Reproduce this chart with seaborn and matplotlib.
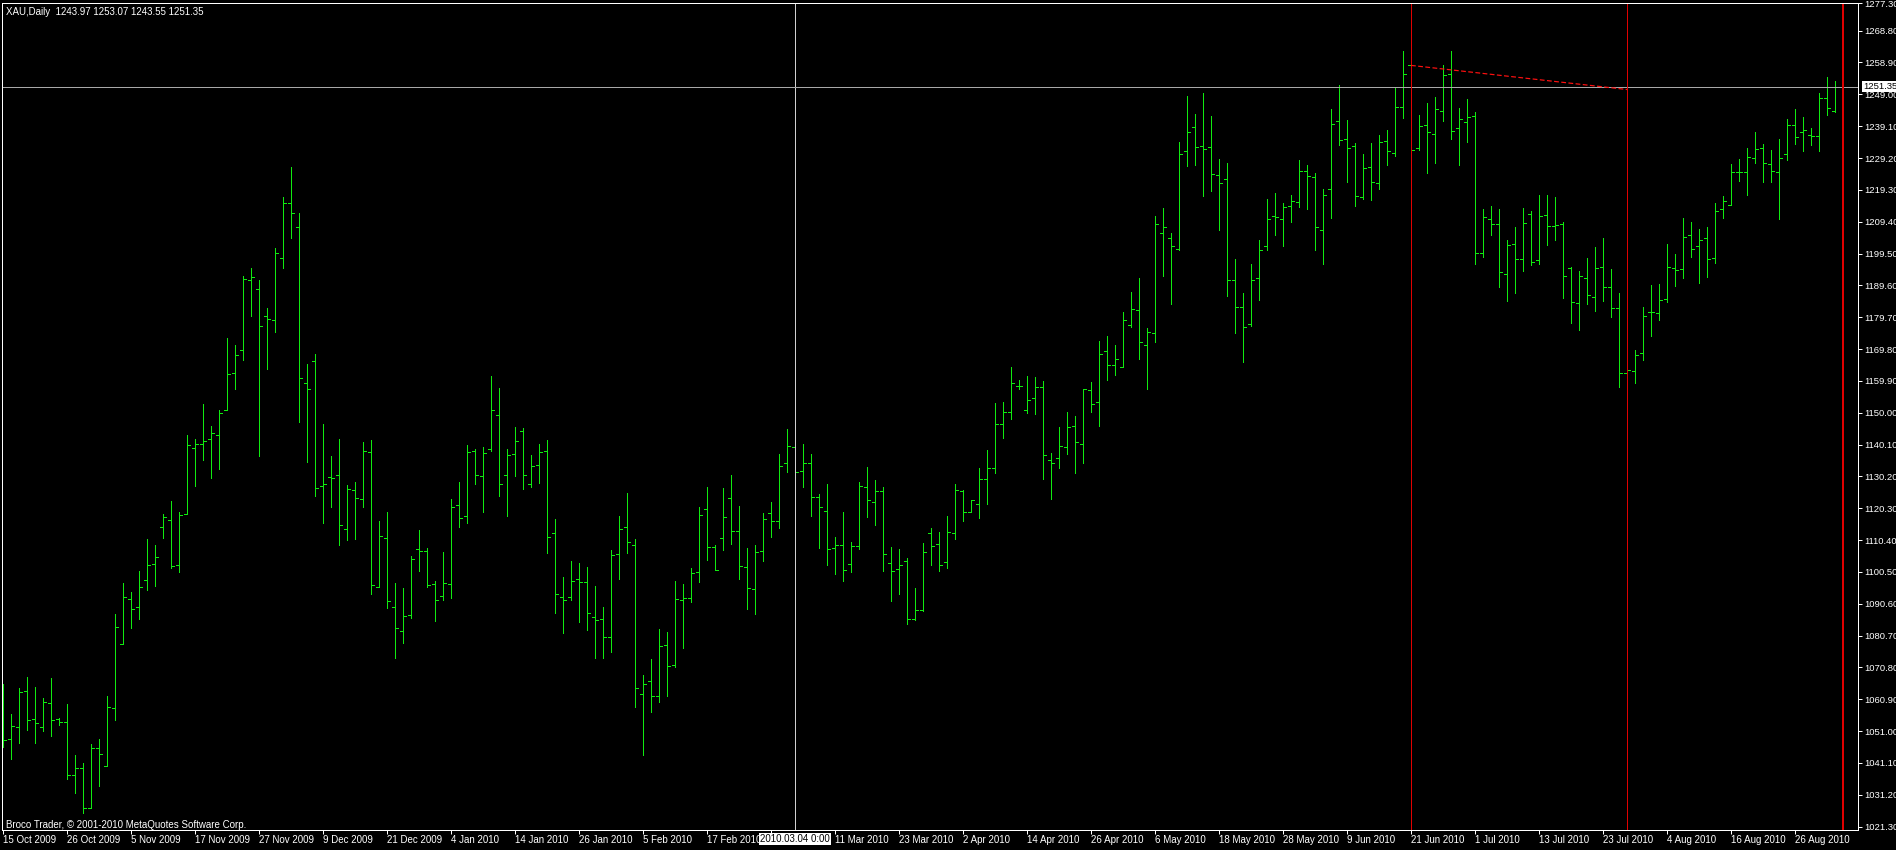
import numpy as np
import pandas as pd
import seaborn as sns
import matplotlib
matplotlib.use("Agg")
import matplotlib.pyplot as plt
import matplotlib.transforms as mtransforms

# XAU daily bars (oldest first)
bar_open = [
    1060.0, 1048.4, 1052.4, 1063.6, 1054.9, 1052.4, 1059.6, 1054.7, 1053.7, 1037.5,
    1039.4, 1027.0, 1045.6, 1040.3, 1058.3, 1078.2, 1092.2, 1089.7, 1098.1, 1103.1,
    1114.5, 1116.7, 1102.7, 1118.6, 1139.1, 1140.3, 1141.9, 1143.1, 1150.9, 1162.4,
    1169.5, 1191.2, 1188.5, 1180.1, 1178.8, 1198.1, 1215.2, 1207.7, 1159.3, 1166.1,
    1127.3, 1130.1, 1130.7, 1113.9, 1126.0, 1123.2, 1137.8, 1095.9, 1111.1, 1089.7,
    1082.2, 1087.2, 1107.7, 1107.1, 1096.8, 1093.1, 1096.8, 1121.4, 1118.0, 1138.2,
    1130.4, 1138.8, 1149.3, 1130.7, 1137.2, 1144.4, 1127.9, 1133.8, 1138.2, 1112.7,
    1092.8, 1092.8, 1098.4, 1097.5, 1086.6, 1085.7, 1080.4, 1106.1, 1114.5, 1108.9,
    1062.4, 1066.7, 1062.0, 1077.9, 1071.7, 1091.9, 1092.5, 1100.6, 1120.1, 1108.3,
    1111.1, 1123.6, 1113.3, 1102.1, 1095.3, 1107.1, 1118.9, 1116.4, 1134.4, 1139.4,
    1131.9, 1134.4, 1123.9, 1119.5, 1108.0, 1108.9, 1103.1, 1108.6, 1127.0, 1122.3,
    1125.7, 1103.4, 1101.5, 1104.0, 1086.0, 1088.8, 1112.7, 1109.3, 1103.7, 1112.7,
    1125.8, 1119.2, 1121.7, 1129.5, 1132.9, 1146.5, 1150.3, 1158.3, 1150.9, 1154.6,
    1158.0, 1135.4, 1136.0, 1139.4, 1145.9, 1140.3, 1157.1, 1153.4, 1169.2, 1164.9,
    1164.2, 1177.3, 1181.9, 1171.1, 1174.8, 1205.9, 1204.3, 1200.9, 1231.3, 1238.8,
    1232.9, 1232.6, 1223.9, 1222.6, 1191.3, 1182.9, 1177.6, 1191.9, 1201.8, 1211.1,
    1210.2, 1214.2, 1215.5, 1225.1, 1223.2, 1206.8, 1219.5, 1240.6, 1235.0, 1232.9,
    1217.0, 1226.3, 1221.4, 1234.4, 1230.7, 1245.0, 1258.0, 1232.3, 1239.4, 1236.6,
    1243.7, 1255.2, 1238.5, 1240.3, 1242.2, 1199.6, 1210.2, 1208.6, 1193.1, 1202.4,
    1197.8, 1211.8, 1197.5, 1211.5, 1208.0, 1208.6, 1195.0, 1184.1, 1191.9, 1186.0,
    1195.3, 1189.1, 1182.6, 1162.4, 1163.0, 1168.6, 1181.3, 1181.0, 1185.3, 1195.0,
    1194.7, 1205.2, 1201.7, 1204.4, 1198.0, 1213.4, 1214.6, 1224.8, 1224.8, 1229.2,
    1232.4, 1227.2, 1225.0, 1230.5, 1239.6, 1237.4, 1236.4, 1236.1, 1248.0, 1243.97,
]
bar_high = [
    1065.6, 1056.3, 1064.3, 1067.8, 1064.7, 1061.2, 1067.4, 1055.1, 1059.4, 1043.5,
    1041.0, 1046.9, 1048.5, 1061.9, 1087.3, 1097.0, 1094.2, 1100.7, 1110.6, 1108.8,
    1118.4, 1122.7, 1119.0, 1143.2, 1141.7, 1152.8, 1146.0, 1150.7, 1173.3, 1171.2,
    1192.6, 1195.1, 1191.4, 1182.6, 1201.3, 1217.1, 1226.4, 1212.2, 1165.0, 1168.4,
    1146.6, 1136.4, 1141.7, 1127.4, 1128.6, 1141.0, 1141.4, 1116.2, 1119.0, 1096.9,
    1095.4, 1105.6, 1113.4, 1107.8, 1097.6, 1106.6, 1123.3, 1128.3, 1140.1, 1138.6,
    1139.2, 1161.5, 1157.8, 1138.6, 1145.7, 1145.4, 1137.0, 1140.4, 1141.4, 1117.1,
    1098.8, 1103.8, 1103.2, 1101.9, 1096.0, 1089.5, 1107.2, 1117.8, 1124.9, 1110.6,
    1068.4, 1073.3, 1082.7, 1081.8, 1097.6, 1096.6, 1101.6, 1120.6, 1126.8, 1108.8,
    1126.5, 1130.5, 1120.9, 1107.8, 1108.8, 1118.7, 1122.1, 1137.3, 1144.8, 1142.0,
    1140.4, 1137.3, 1124.6, 1127.7, 1111.2, 1119.0, 1109.7, 1128.3, 1133.0, 1129.0,
    1126.8, 1108.1, 1107.5, 1104.7, 1095.4, 1109.4, 1114.3, 1112.8, 1117.8, 1127.7,
    1126.1, 1123.0, 1132.7, 1138.3, 1152.9, 1153.2, 1164.3, 1160.3, 1161.5, 1161.2,
    1160.0, 1137.6, 1145.7, 1150.1, 1149.1, 1157.4, 1159.7, 1172.4, 1174.0, 1171.2,
    1181.4, 1187.6, 1192.0, 1176.4, 1211.2, 1213.7, 1206.0, 1234.2, 1248.5, 1242.9,
    1249.4, 1242.3, 1228.9, 1227.7, 1197.9, 1187.3, 1196.3, 1203.8, 1216.5, 1218.4,
    1215.3, 1217.8, 1228.6, 1227.1, 1224.6, 1219.6, 1244.5, 1251.9, 1241.0, 1233.9,
    1230.5, 1233.9, 1236.4, 1237.9, 1251.0, 1262.5, 1260.0, 1242.6, 1246.3, 1248.2,
    1258.1, 1262.5, 1244.8, 1247.6, 1243.5, 1213.4, 1214.3, 1213.4, 1203.8, 1207.8,
    1213.7, 1212.7, 1217.7, 1217.7, 1217.1, 1209.3, 1195.3, 1194.2, 1198.2, 1201.6,
    1204.4, 1194.8, 1187.3, 1166.0, 1169.6, 1183.0, 1189.8, 1190.1, 1202.5, 1199.4,
    1210.6, 1209.4, 1207.0, 1207.7, 1215.1, 1217.3, 1227.4, 1228.9, 1232.2, 1237.3,
    1233.7, 1231.7, 1235.2, 1241.3, 1244.3, 1242.1, 1238.4, 1249.5, 1254.5, 1253.07,
]
bar_low = [
    1045.9, 1042.3, 1047.3, 1051.4, 1047.3, 1051.0, 1049.4, 1052.9, 1036.1, 1031.7,
    1025.5, 1027.0, 1033.9, 1040.3, 1054.5, 1078.1, 1083.1, 1085.9, 1094.9, 1096.1,
    1111.0, 1101.7, 1100.5, 1118.6, 1127.2, 1135.3, 1129.7, 1132.4, 1150.9, 1157.3,
    1166.3, 1180.0, 1136.5, 1163.5, 1175.0, 1194.9, 1204.2, 1147.0, 1134.6, 1124.1,
    1115.7, 1120.6, 1108.9, 1110.4, 1110.7, 1120.6, 1093.6, 1095.9, 1089.3, 1073.8,
    1078.4, 1086.2, 1100.8, 1095.8, 1085.3, 1091.8, 1092.4, 1114.4, 1115.7, 1127.8,
    1119.1, 1138.0, 1124.1, 1117.9, 1130.3, 1126.3, 1126.9, 1128.1, 1106.4, 1087.7,
    1081.5, 1091.8, 1084.9, 1082.5, 1073.8, 1073.8, 1075.6, 1098.3, 1106.4, 1058.5,
    1043.5, 1057.0, 1060.0, 1062.0, 1071.0, 1076.9, 1091.2, 1097.4, 1104.2, 1101.2,
    1107.3, 1109.2, 1098.3, 1089.0, 1087.4, 1103.9, 1111.3, 1114.1, 1131.5, 1128.0,
    1126.9, 1117.9, 1108.0, 1102.6, 1099.9, 1097.7, 1100.5, 1107.6, 1117.6, 1115.1,
    1100.8, 1091.5, 1093.6, 1084.3, 1085.6, 1088.4, 1102.6, 1100.8, 1101.7, 1110.7,
    1116.3, 1119.2, 1117.3, 1121.5, 1131.2, 1142.1, 1148.0, 1157.4, 1149.9, 1149.5,
    1129.4, 1123.1, 1132.8, 1137.1, 1131.2, 1134.3, 1150.2, 1145.8, 1160.1, 1161.6,
    1164.2, 1176.5, 1166.7, 1157.4, 1171.9, 1192.4, 1183.7, 1200.5, 1226.6, 1226.9,
    1217.5, 1218.8, 1206.7, 1186.2, 1174.7, 1165.7, 1176.9, 1184.9, 1200.5, 1205.4,
    1201.7, 1209.2, 1214.1, 1213.2, 1200.5, 1196.1, 1210.4, 1233.1, 1221.6, 1214.4,
    1216.3, 1216.0, 1219.7, 1226.9, 1229.7, 1241.5, 1228.0, 1231.7, 1224.6, 1227.7,
    1240.8, 1235.2, 1226.9, 1234.3, 1196.1, 1198.3, 1205.4, 1189.0, 1184.6, 1187.1,
    1194.0, 1195.8, 1196.1, 1202.3, 1203.6, 1185.6, 1177.8, 1175.6, 1183.7, 1181.5,
    1184.6, 1179.7, 1157.9, 1159.0, 1159.2, 1166.3, 1173.8, 1178.7, 1184.3, 1189.3,
    1191.8, 1198.3, 1190.3, 1192.1, 1196.6, 1210.4, 1214.6, 1222.2, 1217.6, 1227.6,
    1221.6, 1221.6, 1210.1, 1228.5, 1233.7, 1231.5, 1233.1, 1231.5, 1242.6, 1243.55,
]
bar_close = [
    1048.1, 1052.7, 1063.3, 1054.3, 1053.4, 1059.9, 1054.3, 1053.7, 1037.2, 1039.4,
    1027.0, 1045.6, 1044.0, 1058.6, 1083.5, 1092.8, 1089.1, 1095.9, 1102.8, 1105.2,
    1117.7, 1102.4, 1118.3, 1140.0, 1140.3, 1141.3, 1143.7, 1149.9, 1162.1, 1168.0,
    1191.6, 1192.2, 1177.0, 1179.1, 1199.6, 1215.2, 1212.1, 1160.8, 1157.4, 1126.6,
    1127.9, 1129.8, 1115.2, 1126.4, 1123.6, 1138.1, 1096.5, 1111.7, 1091.6, 1083.2,
    1086.9, 1104.6, 1107.1, 1096.5, 1091.9, 1097.2, 1120.8, 1117.3, 1137.8, 1130.7,
    1137.5, 1150.9, 1127.9, 1136.9, 1141.3, 1130.7, 1133.5, 1137.8, 1111.4, 1093.7,
    1091.9, 1097.8, 1097.5, 1087.8, 1085.4, 1080.4, 1105.8, 1113.9, 1109.9, 1064.5,
    1065.5, 1062.0, 1077.6, 1071.1, 1092.2, 1092.5, 1100.3, 1118.3, 1108.3, 1101.2,
    1117.7, 1113.3, 1102.4, 1095.6, 1106.8, 1117.0, 1116.4, 1133.5, 1139.7, 1131.6,
    1134.4, 1123.9, 1120.8, 1107.7, 1108.9, 1101.2, 1108.6, 1127.3, 1123.0, 1125.7,
    1106.2, 1100.9, 1102.7, 1085.7, 1088.8, 1106.8, 1108.6, 1102.7, 1113.0, 1126.0,
    1119.2, 1122.9, 1129.5, 1132.9, 1146.5, 1150.3, 1159.3, 1158.3, 1154.0, 1158.0,
    1136.9, 1134.4, 1139.7, 1145.6, 1140.9, 1157.4, 1152.8, 1168.3, 1164.9, 1166.7,
    1178.8, 1182.3, 1172.0, 1175.1, 1208.6, 1207.7, 1201.8, 1230.4, 1237.3, 1232.6,
    1231.9, 1224.2, 1221.4, 1191.3, 1182.9, 1176.7, 1191.3, 1200.6, 1210.2, 1210.8,
    1213.9, 1215.8, 1225.1, 1223.6, 1207.7, 1217.7, 1239.7, 1234.7, 1232.3, 1217.3,
    1226.0, 1221.7, 1234.1, 1231.3, 1245.0, 1255.2, 1231.6, 1239.1, 1237.2, 1244.4,
    1254.9, 1237.5, 1241.2, 1241.9, 1199.6, 1210.8, 1208.6, 1193.7, 1202.1, 1197.8,
    1209.0, 1196.9, 1211.1, 1208.0, 1208.3, 1192.5, 1184.4, 1192.5, 1186.6, 1195.0,
    1189.1, 1182.6, 1162.4, 1163.3, 1168.0, 1180.1, 1181.3, 1185.0, 1195.3, 1194.4,
    1204.6, 1200.9, 1203.7, 1197.7, 1212.8, 1215.8, 1225.0, 1224.8, 1229.6, 1232.1,
    1227.7, 1225.3, 1229.2, 1239.6, 1235.7, 1237.8, 1236.1, 1247.8, 1244.6, 1251.35,
]

# date labels every 8 bars (the one under the crosshair box is hidden)
date_labels = [
    "15 Oct 2009", "26 Oct 2009", "5 Nov 2009", "17 Nov 2009", "27 Nov 2009",
    "9 Dec 2009", "21 Dec 2009", "4 Jan 2010", "14 Jan 2010", "26 Jan 2010",
    "5 Feb 2010", "17 Feb 2010", "", "11 Mar 2010", "23 Mar 2010", "2 Apr 2010",
    "14 Apr 2010", "26 Apr 2010", "6 May 2010", "18 May 2010", "28 May 2010",
    "9 Jun 2010", "21 Jun 2010", "1 Jul 2010", "13 Jul 2010", "23 Jul 2010",
    "4 Aug 2010", "16 Aug 2010", "26 Aug 2010",
]
price_ticks = [1021.30, 1031.20, 1041.10, 1051.00, 1060.90, 1070.80, 1080.70,
               1090.60, 1100.50, 1110.40, 1120.30, 1130.20, 1140.10, 1150.00,
               1159.90, 1169.80, 1179.70, 1189.60, 1199.50, 1209.40, 1219.30,
               1229.20, 1239.10, 1249.00, 1258.90, 1268.80, 1277.30]

crosshair_bar = 99
crosshair_price = 1251.35
crosshair_date = "2010.03.04 0:00"
red_lines = [176, 203, 230]
red_widths = [1, 1, 2]
trend_x = [176, 203]
trend_y = [1258.0, 1250.5]

sns.set_style("dark", {"axes.facecolor": "black", "figure.facecolor": "black",
                       "axes.edgecolor": "white", "axes.grid": False})
plt.rcParams['font.family'] = ['Liberation Sans', 'DejaVu Sans']

df = pd.DataFrame({"open": bar_open, "high": bar_high,
                   "low": bar_low, "close": bar_close})
df["bar"] = np.arange(len(df))

W, H = 1896, 850
fig = plt.figure(figsize=(W / 100, H / 100), dpi=100)
ax = fig.add_axes([2 / W, 20.5 / H, 1856 / W, 826.5 / H])
ax.set_facecolor("black")

green = "#10ea10"
px = 0.72
ax.vlines(df["bar"], df["low"], df["high"], color=green, lw=px, antialiased=False)
ax.hlines(df["open"], df["bar"] - 0.375, df["bar"], color=green, lw=px, antialiased=False)
ax.hlines(df["close"], df["bar"], df["bar"] + 0.375, color=green, lw=px, antialiased=False)

# crosshair
ax.axvline(crosshair_bar, color="#d0d0d0", lw=px, antialiased=False)
ax.axhline(crosshair_price, color="#a8a8a8", lw=px, antialiased=False)

for xb, wd in zip(red_lines, red_widths):
    ax.axvline(xb, color="#e00000", lw=px * wd, antialiased=False)
sns.lineplot(x=trend_x, y=trend_y, ax=ax, color="#ff1010", lw=px * 1.2,
             dashes=False, linestyle=(0, (4, 2)))

ax.set_xlim(-0.125, 231.875)
ax.set_ylim(1020.4, 1277.4)

ax.yaxis.tick_right()
ax.set_yticks(price_ticks)
ax.set_yticklabels([f"{v:.2f}" for v in price_ticks])
ax.set_xticks(np.arange(0, 8 * len(date_labels), 8))
ax.set_xticklabels(date_labels)
for lab in ax.get_xticklabels():
    lab.set_horizontalalignment("left")
ax.tick_params(axis="both", colors="white", labelcolor="white", length=3,
               width=px, direction="out", labelsize=7, pad=2)
ax.tick_params(axis="y", labelsize=6.8, pad=1.5)
ax.tick_params(axis="x", pad=1)
ax.tick_params(left=False, bottom=True, right=True)
for sp in ax.spines.values():
    sp.set_color("white")
    sp.set_linewidth(px)
ax.set_xlabel("")
ax.set_ylabel("")

# price label of the crosshair
trans_y = mtransforms.blended_transform_factory(ax.transAxes, ax.transData)
ax.annotate(f"{crosshair_price:.2f}", xy=(1.0, crosshair_price), xycoords=trans_y,
            xytext=(5, 0), textcoords="offset pixels",
            ha="left", va="center", fontsize=6.8, color="black",
            bbox=dict(facecolor="white", edgecolor="none", pad=0.8))
# date label of the crosshair
trans_x = mtransforms.blended_transform_factory(ax.transData, ax.transAxes)
ax.annotate(crosshair_date, xy=(crosshair_bar, 0), xycoords=trans_x,
            xytext=(0, -9.5), textcoords="offset pixels", ha="center", va="center",
            fontsize=7, color="black",
            bbox=dict(facecolor="white", edgecolor="none", pad=0.8))

fig.text(6 / W, 1 - 12 / H, "XAU,Daily  1243.97 1253.07 1243.55 1251.35",
         color="white", fontsize=7, va="center", ha="left")
fig.text(6 / W, 1 - 825 / H, "Broco Trader, \u00a9 2001-2010 MetaQuotes Software Corp.",
         color="white", fontsize=7, va="center", ha="left")

fig.savefig("out.png", dpi=100, facecolor="black")
